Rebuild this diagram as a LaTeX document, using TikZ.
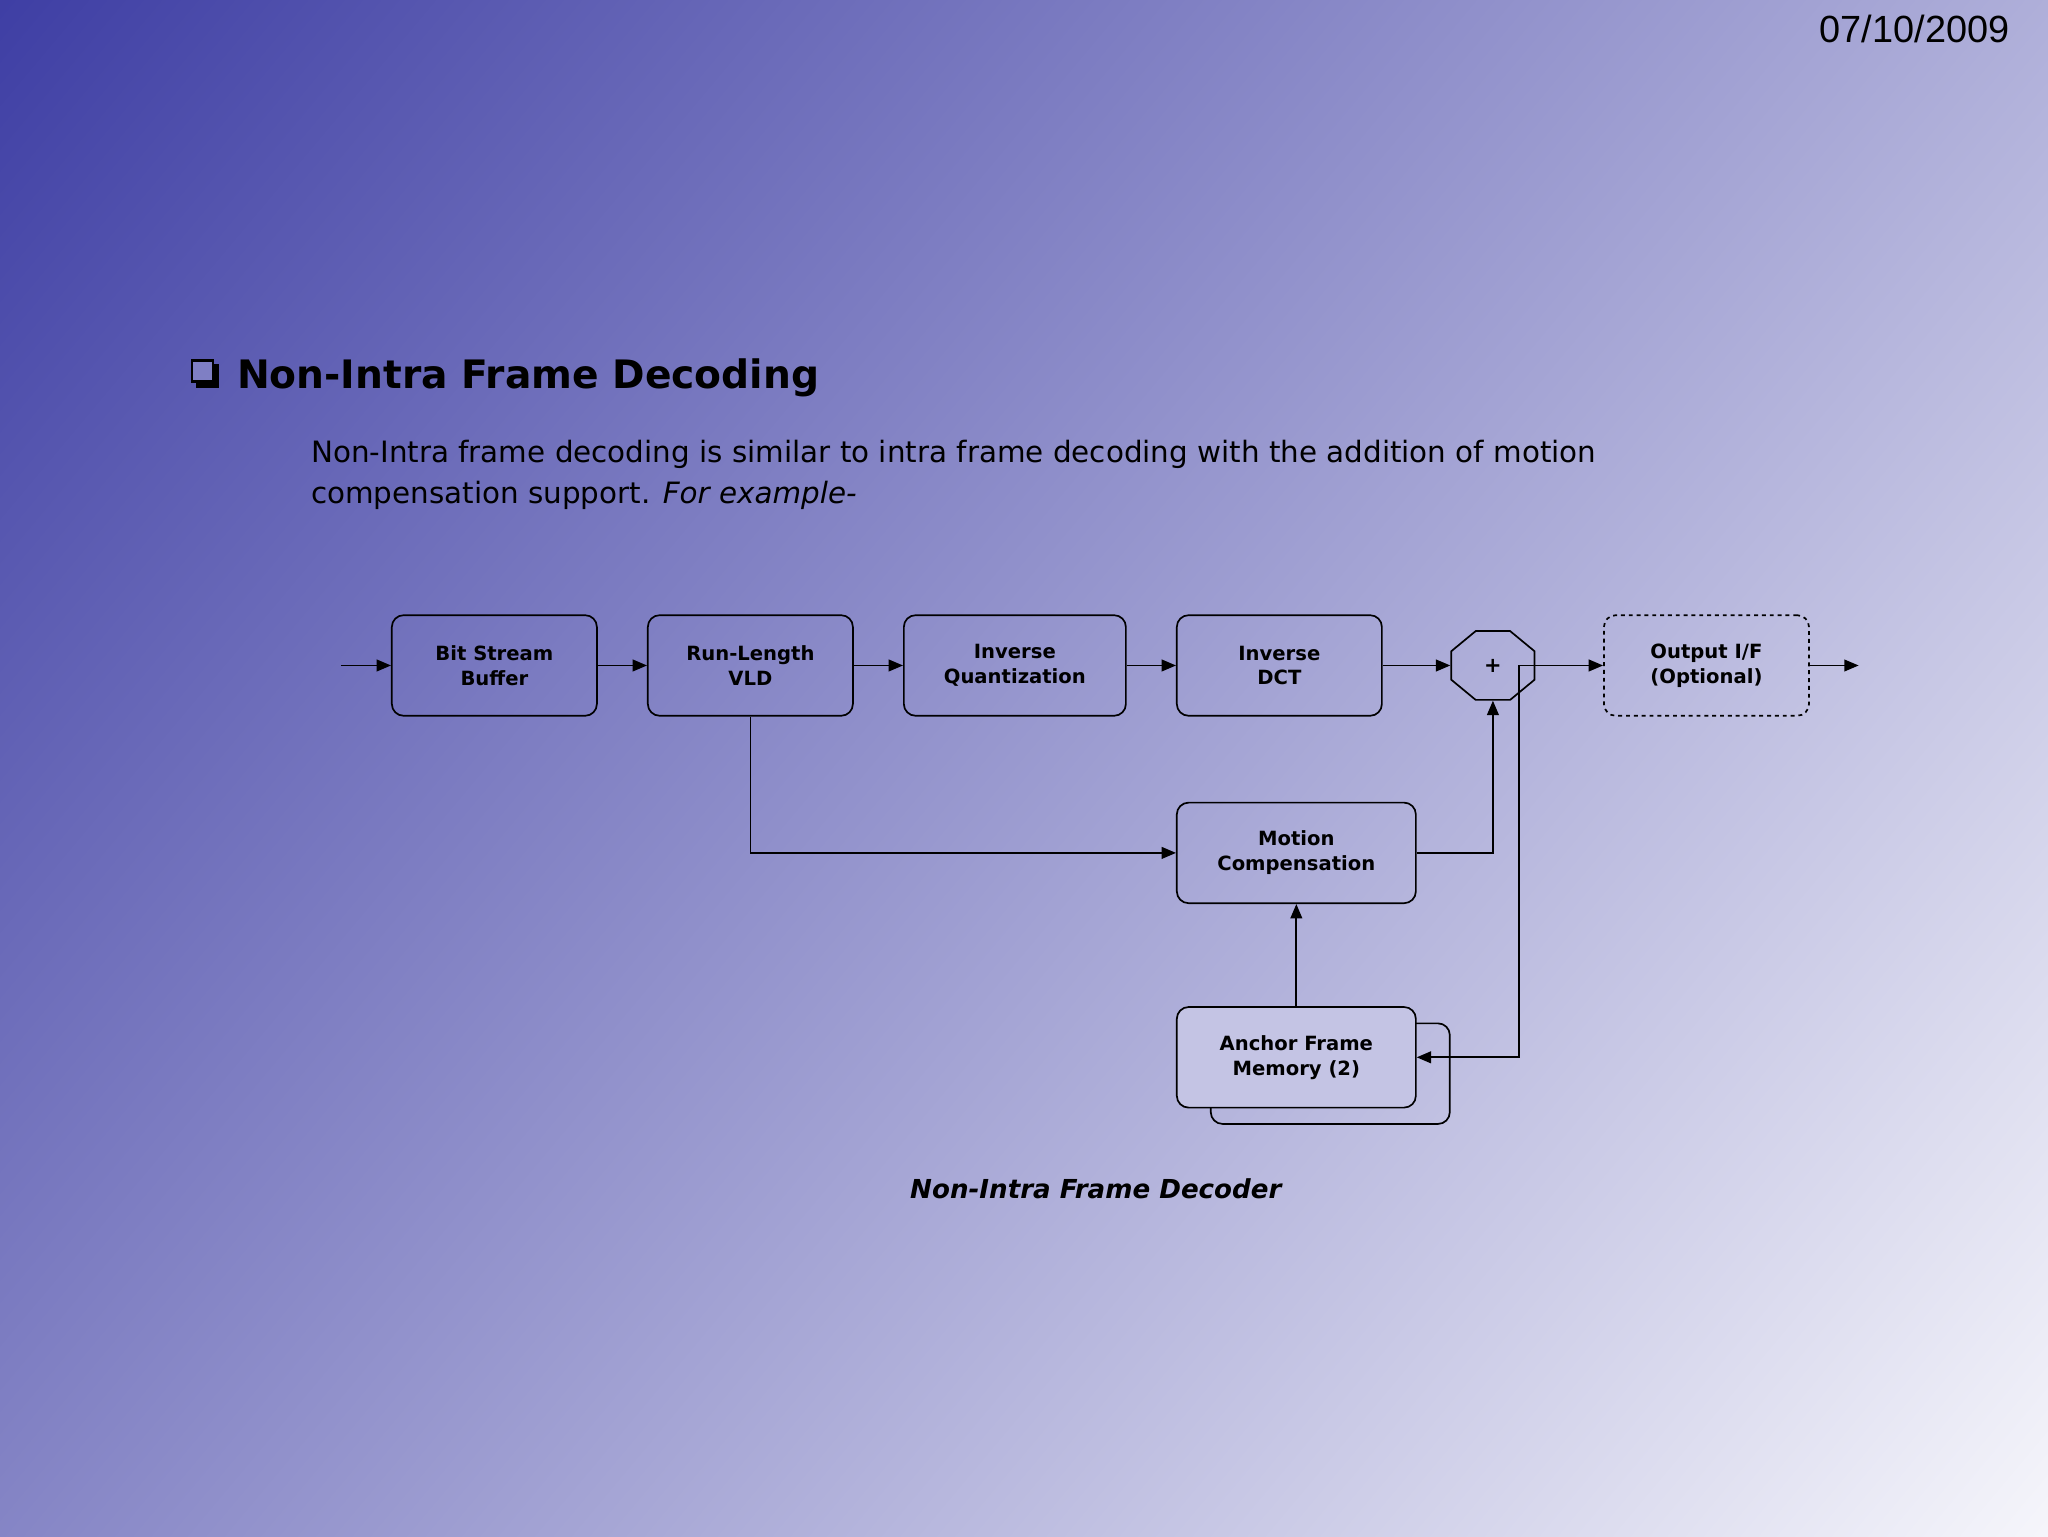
\documentclass[tikz,border=0pt]{standalone}
\usepackage{fontspec}
\setmainfont{DejaVu Sans}
\newfontfamily\datefont{Liberation Sans}
\usetikzlibrary{arrows.meta,shapes.geometric}
\definecolor{bgA}{HTML}{3A3AA2}
\definecolor{bgB}{HTML}{9090CC}
\definecolor{bgC}{HTML}{FAFAFD}
\definecolor{frontfill}{HTML}{C4C4E4}
\begin{document}
\begin{tikzpicture}[x=1pt,y=-1pt,
  blk/.style={draw,line width=1.3pt,rounded corners=9pt,minimum width=157pt,minimum height=77pt,align=center,font=\fontsize{15}{19}\selectfont\bfseries,inner sep=0pt},
  conn/.style={line width=1.3pt,-{Triangle[length=11pt,width=9pt]}},
  ln/.style={line width=1.3pt}]
\useasboundingbox (0,0) rectangle (1568,1176);
\shade[shading=axis,top color=bgA,middle color=bgB,bottom color=bgC,shading angle=45] (-300,-300) rectangle (1868,1476);
\path[clip] (0,0) rectangle (1568,1176);
\shade[shading=axis,top color=bgA,middle color=bgB,bottom color=bgC,shading angle=50] (-200,-500) rectangle (1768,1676);
\node[anchor=north east,font=\datefont\fontsize{29}{34}\selectfont] (date) at (1542,8) {07/10/2009};
% bullet box
\fill (150,279) rectangle (168,297);
\fill[bgB!80!bgA] (147,276) rectangle (163,292);
\draw[line width=1.8pt] (147,276) rectangle (163,292);
\node[anchor=west,font=\fontsize{30}{36}\selectfont\bfseries] (title) at (178,289) {Non-Intra Frame Decoding};
\node[anchor=north west,align=left,font=\fontsize{22.5}{31.5}\selectfont,inner sep=0pt] (para) at (238,337) {Non-Intra frame decoding is similar to intra frame decoding with the addition of motion\\compensation support. \textit{For example-}};
% blocks
\node[blk] (bsb) at (378.5,509.5) {Bit Stream\\Buffer};
\node[blk] (vld) at (574.5,509.5) {Run-Length\\VLD};
\node[blk,minimum width=170pt] (iq) at (777,509.5) {Inverse\\Quantization};
\node[blk] (dct) at (979.5,509.5) {Inverse\\DCT};
\node[draw,line width=1.3pt,regular polygon,regular polygon sides=8,minimum size=60pt,inner sep=0pt,xscale=1.15,yscale=0.95,font=\fontsize{16}{18}\selectfont\bfseries] (plus) at (1143,509.5) {};
\node[font=\fontsize{16}{18}\selectfont\bfseries] (plust) at (1143,510) {+};
\node[blk,dashed] (out) at (1306.5,509.5) {Output I/F\\(Optional)};
\node[blk,minimum width=183pt] (mc) at (992.5,653) {Motion\\Compensation};
\node[blk,minimum width=183pt] (back) at (1018.5,822) {};
\node[blk,minimum width=183pt,fill=frontfill] (afm) at (992.5,809.5) {Anchor Frame\\Memory (2)};
\coordinate (in) at (261,509.5);
\coordinate (outend) at (1423,509.5);
\coordinate (br) at (1163,509.5);
% connectors
\draw[conn] (in) -- (bsb);
\draw[conn] (bsb) -- (vld);
\draw[conn] (vld) -- (iq);
\draw[conn] (iq) -- (dct);
\draw[conn] (dct) -- (plus.west);
\draw[conn] (br) -- (out.west);
\draw[conn] (out) -- (outend);
\draw[conn] (vld.south) |- (mc.west);
\draw[conn] (mc.east) -| (plus.south);
\draw[conn] (afm.north) -- (mc.south);
\draw[conn] (br) |- (afm.east);
\node[font=\fontsize{20}{24}\selectfont\bfseries\itshape] (cap) at (839,910) {Non-Intra Frame Decoder};
\end{tikzpicture}
\end{document}
